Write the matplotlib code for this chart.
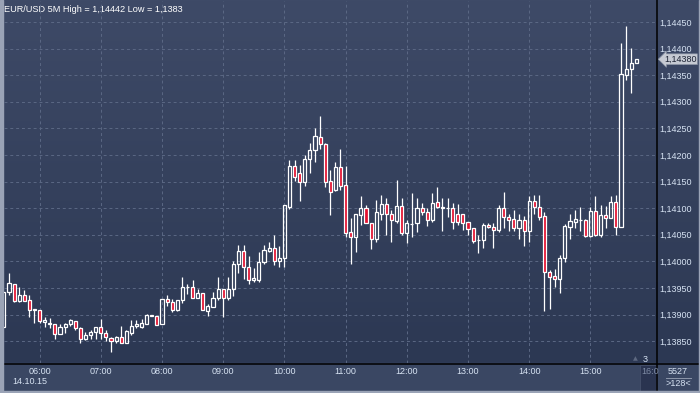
import matplotlib
matplotlib.use('Agg')
import matplotlib.pyplot as plt
import numpy as np
from matplotlib.patches import Rectangle
from matplotlib.colors import LinearSegmentedColormap

# EUR/USD 5M, 14.10.15, one candle every 5 minutes from 05:25 to 15:45
opens = [
    1.13877, 1.13942, 1.13957, 1.13926, 1.13936, 1.13927, 1.13909, 1.13909, 1.13887, 1.13882,
    1.13882, 1.13864, 1.13876, 1.13882, 1.13888, 1.13874, 1.13855, 1.13862, 1.13867, 1.13877,
    1.13866, 1.13856, 1.13850, 1.13857, 1.13846, 1.13865, 1.13879, 1.13877, 1.13882, 1.13899,
    1.13897, 1.13882, 1.13929, 1.13923, 1.13909, 1.13927, 1.13951, 1.13952, 1.13931, 1.13940,
    1.13907, 1.13915, 1.13931, 1.13949, 1.13931, 1.13949, 1.13996, 1.14020, 1.13989, 1.13965,
    1.13965, 1.13998, 1.14020, 1.14025, 1.14001, 1.14006, 1.14102, 1.14179, 1.14166, 1.14150,
    1.14192, 1.14209, 1.14233, 1.14221, 1.14151, 1.14134, 1.14177, 1.14144, 1.14055, 1.14045,
    1.14087, 1.14100, 1.14073, 1.14043, 1.14090, 1.14108, 1.14090, 1.14076, 1.14104, 1.14053,
    1.14071, 1.14072, 1.14100, 1.14092, 1.14078, 1.14111, 1.14102, 1.14101, 1.14100, 1.14089,
    1.14089, 1.14075, 1.14062, 1.14040, 1.14040, 1.14068, 1.14064, 1.14059, 1.14100, 1.14083,
    1.14079, 1.14062, 1.14078, 1.14057, 1.14114, 1.14102, 1.14085, 1.13980, 1.13973, 1.13966,
    1.14006, 1.14065, 1.14075, 1.14078, 1.14078, 1.14048, 1.14095, 1.14050, 1.14087, 1.14082,
    1.14112, 1.14064, 1.14350, 1.14361, 1.14372,
]
highs = [
    1.13943, 1.13978, 1.13957, 1.13951, 1.13946, 1.13937, 1.13911, 1.13909, 1.13895, 1.13894,
    1.13882, 1.13882, 1.13885, 1.13891, 1.13888, 1.13877, 1.13868, 1.13871, 1.13876, 1.13892,
    1.13871, 1.13858, 1.13860, 1.13879, 1.13871, 1.13889, 1.13889, 1.13891, 1.13901, 1.13899,
    1.13897, 1.13929, 1.13937, 1.13929, 1.13927, 1.13970, 1.13958, 1.13965, 1.13948, 1.13940,
    1.13919, 1.13942, 1.13970, 1.13949, 1.13970, 1.14001, 1.14031, 1.14031, 1.14010, 1.13988,
    1.14018, 1.14031, 1.14036, 1.14050, 1.14029, 1.14106, 1.14191, 1.14191, 1.14181, 1.14200,
    1.14222, 1.14250, 1.14273, 1.14223, 1.14172, 1.14186, 1.14211, 1.14179, 1.14081, 1.14089,
    1.14122, 1.14106, 1.14073, 1.14115, 1.14125, 1.14119, 1.14097, 1.14153, 1.14119, 1.14078,
    1.14128, 1.14119, 1.14109, 1.14100, 1.14128, 1.14140, 1.14119, 1.14119, 1.14109, 1.14108,
    1.14089, 1.14075, 1.14062, 1.14050, 1.14072, 1.14072, 1.14073, 1.14106, 1.14130, 1.14089,
    1.14097, 1.14089, 1.14085, 1.14123, 1.14125, 1.14125, 1.14092, 1.13984, 1.13985, 1.14012,
    1.14070, 1.14090, 1.14097, 1.14102, 1.14079, 1.14102, 1.14123, 1.14106, 1.14104, 1.14122,
    1.14125, 1.14410, 1.14442, 1.14402, 1.14380,
]
lows = [
    1.13877, 1.13937, 1.13924, 1.13923, 1.13926, 1.13896, 1.13884, 1.13884, 1.13877, 1.13875,
    1.13855, 1.13864, 1.13866, 1.13879, 1.13871, 1.13846, 1.13852, 1.13855, 1.13855, 1.13855,
    1.13850, 1.13830, 1.13846, 1.13846, 1.13846, 1.13862, 1.13875, 1.13874, 1.13882, 1.13898,
    1.13880, 1.13882, 1.13917, 1.13905, 1.13907, 1.13921, 1.13938, 1.13931, 1.13931, 1.13909,
    1.13898, 1.13914, 1.13927, 1.13896, 1.13927, 1.13935, 1.13979, 1.13966, 1.13958, 1.13962,
    1.13961, 1.13996, 1.14018, 1.13993, 1.13990, 1.13990, 1.14098, 1.14152, 1.14114, 1.14142,
    1.14167, 1.14187, 1.14211, 1.14139, 1.14087, 1.14133, 1.14134, 1.14046, 1.13996, 1.14018,
    1.14068, 1.14073, 1.14023, 1.14037, 1.14078, 1.14050, 1.14037, 1.14072, 1.14050, 1.14034,
    1.14045, 1.14056, 1.14087, 1.14067, 1.14075, 1.14100, 1.14058, 1.14084, 1.14060, 1.14068,
    1.14059, 1.14050, 1.14034, 1.14016, 1.14025, 1.14063, 1.14025, 1.14056, 1.14063, 1.14058,
    1.14058, 1.14043, 1.14029, 1.14037, 1.14090, 1.14078, 1.13907, 1.13910, 1.13951, 1.13940,
    1.13998, 1.14043, 1.14062, 1.14058, 1.14046, 1.14046, 1.14048, 1.14046, 1.14062, 1.14081,
    1.14050, 1.14064, 1.14341, 1.14317, 1.14372,
]
closes = [
    1.13943, 1.13959, 1.13926, 1.13937, 1.13926, 1.13909, 1.13911, 1.13888, 1.13889, 1.13885,
    1.13864, 1.13877, 1.13882, 1.13889, 1.13874, 1.13855, 1.13862, 1.13868, 1.13876, 1.13865,
    1.13857, 1.13850, 1.13857, 1.13846, 1.13870, 1.13879, 1.13882, 1.13884, 1.13899, 1.13898,
    1.13880, 1.13929, 1.13923, 1.13909, 1.13927, 1.13951, 1.13951, 1.13931, 1.13940, 1.13909,
    1.13916, 1.13931, 1.13949, 1.13931, 1.13949, 1.13996, 1.14020, 1.13989, 1.13965, 1.13968,
    1.13998, 1.14021, 1.14025, 1.14001, 1.14006, 1.14106, 1.14179, 1.14159, 1.14150, 1.14192,
    1.14209, 1.14236, 1.14220, 1.14150, 1.14131, 1.14177, 1.14142, 1.14054, 1.14045, 1.14089,
    1.14100, 1.14073, 1.14042, 1.14092, 1.14108, 1.14090, 1.14078, 1.14104, 1.14053, 1.14072,
    1.14070, 1.14100, 1.14093, 1.14078, 1.14109, 1.14102, 1.14101, 1.14101, 1.14075, 1.14075,
    1.14073, 1.14060, 1.14039, 1.14040, 1.14068, 1.14064, 1.14059, 1.14100, 1.14083, 1.14078,
    1.14062, 1.14078, 1.14057, 1.14114, 1.14102, 1.14084, 1.13980, 1.13971, 1.13966, 1.14006,
    1.14067, 1.14076, 1.14080, 1.14078, 1.14048, 1.14095, 1.14050, 1.14087, 1.14082, 1.14112,
    1.14064, 1.14352, 1.14361, 1.14372, 1.14380,
]

# hour marks: bar index of each full hour (first bar is 05:25)
hour_labels = ['06:00', '07:00', '08:00', '09:00', '10:00', '11:00',
               '12:00', '13:00', '14:00', '15:00']
hour_bars = [7, 19, 31, 43, 55, 67, 79, 91, 103, 115]
price_ticks = [1.1385, 1.1390, 1.1395, 1.1400, 1.1405, 1.1410, 1.1415,
               1.1420, 1.1425, 1.1430, 1.1435, 1.1440, 1.1445]
last_price = 1.14380
title = 'EUR/USD 5M High = 1,14442 Low = 1,1383'

plt.rcParams['font.family'] = ['Liberation Sans', 'DejaVu Sans']

W, H = 700, 393
TXT = '#d6e2f2'
RED = '#e3112f'

fig = plt.figure(figsize=(7, 3.93), dpi=100)

# background panel (pixel coordinates)
bg = fig.add_axes([0, 0, 1, 1])
bg.set_xlim(0, W)
bg.set_ylim(H, 0)
bg.axis('off')
cmap = LinearSegmentedColormap.from_list('bg', ['#3e4a67', '#2c3853'])
bg.imshow(np.linspace(0, 1, 256).reshape(-1, 1), cmap=cmap, extent=[0, W, 363, 0],
          aspect='auto', zorder=0)
bg.add_patch(Rectangle((0, 363), W, 30, color='#3a4763', zorder=1))
bg.plot([657, 657], [0, H], color='black', lw=1.1, zorder=3)
bg.plot([0, W], [363.5, 363.5], color='black', lw=1.1, zorder=3)
# outer light frame
bg.add_patch(Rectangle((0, 0), 3, H, color='#9aa3b6', zorder=4))
bg.add_patch(Rectangle((0, 391), W, 2, color='#9aa3b6', zorder=4))
bg.add_patch(Rectangle((698.5, 0), 1.5, H, color='#9aa3b6', zorder=4))

# "16:0" cursor box on the time axis
bg.add_patch(Rectangle((640, 365), 16, 26, fc='#2a3450', ec='#46516c', lw=0.6, zorder=2))
bg.text(641, 371.5, '16:0', color='#7e8ba4', fontsize=6.5, va='center', ha='left',
        zorder=3, clip_on=True)
bg.text(633, 359, '\u25B2', color='#5d6880', fontsize=4.5, va='center', ha='left',
        family='DejaVu Sans')
bg.text(643, 359, '3', color=TXT, fontsize=6.5, va='center', ha='left')
bg.text(678, 371, '5527', color=TXT, fontsize=6.5, va='center', ha='center')
bg.plot([666, 691], [377.5, 377.5], color='#8c96aa', lw=0.7)
bg.text(678, 384, '>128<', color=TXT, fontsize=6.5, va='center', ha='center')
bg.text(12, 382, '14.10.15', color=TXT, fontsize=6.5, va='center', ha='left')
bg.text(4, 10, title, color='white', fontsize=6.6, va='center', ha='left')

# price chart
px_per_pip = 26.6 / 5.0
ymax = 1.1445 + 21 / px_per_pip * 0.0001
ymin = 1.1445 - 341 / px_per_pip * 0.0001
ax = fig.add_axes([3.5 / W, 1 - 363 / H, 653.5 / W, 362 / H])
ax.patch.set_alpha(0)
ax.set_xlim(-0.078, -0.078 + 653.5 / 5.1)
ax.set_ylim(ymin, ymax)
for s in ax.spines.values():
    s.set_visible(False)

ax.set_yticks(price_ticks)
ax.set_yticklabels([f'{p:.5f}'.replace('.', ',') for p in price_ticks])
ax.yaxis.tick_right()
ax.set_xticks(hour_bars)
ax.set_xticklabels(hour_labels)
ax.tick_params(axis='both', length=0, labelsize=6.5, labelcolor=TXT)
ax.tick_params(axis='y', pad=2.0)
ax.tick_params(axis='x', pad=3.0)
ax.grid(True, color='#5b6884', lw=0.7, ls=(0, (3, 3)))
ax.set_axisbelow(True)

o = np.array(opens)
h = np.array(highs)
l = np.array(lows)
c = np.array(closes)
x = np.arange(len(o))
up = c >= o
top = np.maximum(o, c)
bot = np.minimum(o, c)

ax.vlines(x, top, h, color='white', lw=0.9, zorder=3)
ax.vlines(x, l, bot, color='white', lw=0.9, zorder=3)
ax.bar(x[up], (top - bot)[up], bottom=bot[up], width=0.62, facecolor='none',
       edgecolor='white', lw=0.9, zorder=4)
ax.bar(x[~up], (top - bot)[~up], bottom=bot[~up], width=0.62, facecolor=RED,
       edgecolor='white', lw=0.9, zorder=4)

# last price marker on the price scale
ax.annotate(f'{last_price:.5f}'.replace('.', ','), xy=(1.0, last_price),
            xycoords=('axes fraction', 'data'), xytext=(5, 0), textcoords='offset points',
            fontsize=6.5, color='#1d2435', va='center', ha='left', annotation_clip=False,
            bbox=dict(boxstyle='larrow,pad=0.1', fc='#c6cad3', ec='#8790a2', lw=0.5))

fig.savefig('out.png', dpi=100)
